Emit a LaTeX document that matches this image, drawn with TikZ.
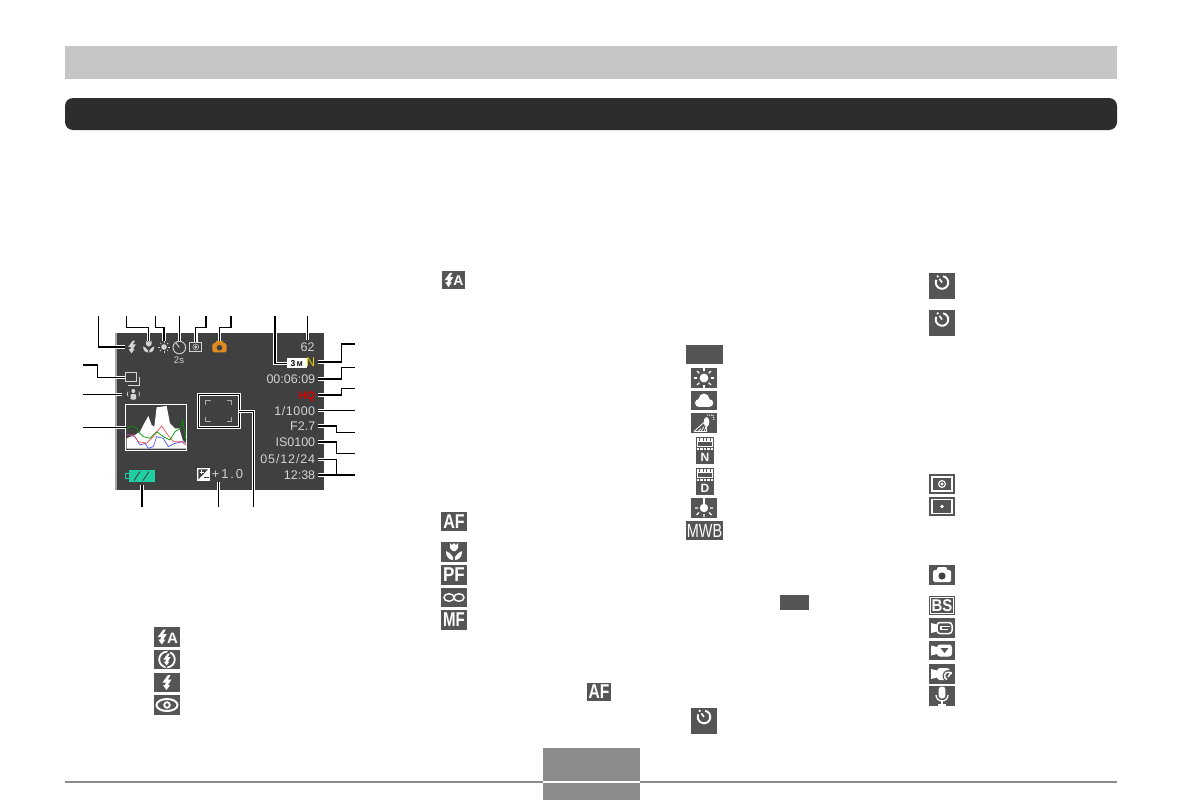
\documentclass[tikz,border=0pt]{standalone}
\usepackage{fontspec}
\setmainfont{Liberation Sans}
\usepackage{xcolor}
\usetikzlibrary{positioning,calc}

\definecolor{icongray}{HTML}{555555}
\definecolor{lcdback}{HTML}{404040}
\definecolor{lcdtext}{HTML}{D4D4D4}
\definecolor{barlight}{HTML}{C6C6C6}
\definecolor{bardark}{HTML}{2D2D2D}
\definecolor{footgray}{HTML}{8C8C8C}
\definecolor{lcdyellow}{HTML}{E6D000}
\definecolor{lcdred}{HTML}{DC0000}
\definecolor{lcdgreen}{HTML}{1FCFA2}
\definecolor{lcdorange}{HTML}{E08A22}

\tikzset{
  leader/.style={line width=1.1pt,black},
  halo/.style={line width=3.4pt,white},
  iconbox/.style 2 args={rectangle,fill=icongray,inner sep=0pt,outer sep=0pt,
    minimum width=#1,minimum height=#2,text=white},
  lcdlabel/.style={anchor=east,text=lcdtext,inner sep=0pt,outer sep=2.8pt,
    font=\fontsize{12.5}{12.5}\selectfont,text height=8.6pt,text depth=0pt},
  lcdicon/.style={rectangle,inner sep=0pt,outer sep=0pt,minimum width=#1,minimum height=12},
  iconletters/.style={font=\fontsize{20}{20}\selectfont\bfseries},
  boltglyph/.pic={
    \fill (1,-7.5) -- (-4.5,0) -- (-1,0) -- (-2,2.5) -- (-4,2.5) -- (-0.5,7.5)
      -- (3,2.5) -- (1,2.5) -- (4.5,-3) -- (1,-3) -- (3.5,-7.5) -- cycle;
  },
  timerglyph/.pic={
    \draw[line width=1.9pt] (-80:6.3) arc[start angle=-80,end angle=205,radius=6.3];
    \fill (-125:7.5) circle (1.3);
    \draw[line width=1.6pt] (0,0) -- (-125:4.5);
  },
  sunglyph/.pic={
    \fill (0,0) circle (4.4);
    \foreach \a in {0,45,...,315} \draw[line width=1.3pt] (\a:6.6) -- (\a:9.8);
  },
  cloudglyph/.pic={
    \fill (-5,2.5) circle (4);
    \fill (0,-1.5) circle (5.4);
    \fill (5.5,2.5) circle (3.8);
    \fill (-5,2.5) rectangle (5.5,6.4);
  },
  shadeglyph/.pic={
    \draw[line width=.8pt] (-10,8.5) -- (1,-1.5) (-10,8.5) -- (3,8.5);
    \foreach \x in {-6,-3,0} \draw[line width=.7pt] (\x,8.5) -- ({\x+3},{8.5-(\x+10)*.7});
    \fill (2.5,-1) ellipse (2.8 and 5);
    \draw[line width=1.3pt] (2.5,2) -- (2.5,8.5);
    \draw[densely dotted,line width=1pt] (3,-8) -- (9,-8) -- (10,-3);
  },
  tubeglyph/.pic={
    \draw[line width=1.1pt] (-7.5,-4) rectangle (7.5,-9) ;
    \draw[densely dotted,line width=2.4pt] (-8,-11.2) -- (8,-11.2) (-8,-1.8) -- (8,-1.8);
  },
  bulbglyph/.pic={
    \fill (0,0) circle (4.2);
    \fill (-1.2,-10) rectangle (1.2,0);
    \draw[line width=1.2pt] (-9,0) -- (-6,0) (6,0) -- (9,0)
      (-5,4.5) -- (-7.5,7) (5,4.5) -- (7.5,7) (0,6) -- (0,9);
  },
  meterglyph/.pic={
    \draw[line width=1.8pt] (-10,-7) rectangle (10,7);
    \draw[line width=1.1pt] (0,0) circle (3.4);
    \fill (0,0) circle (1.6);
  },
  spotglyph/.pic={
    \draw[line width=1.8pt] (-10,-7) rectangle (10,7);
    \fill (0,0) circle (1.9);
  },
  cameraglyph/.pic={
    \fill[rounded corners=1.5] (-9,-5) rectangle (9,7);
    \fill (-4,-8) -- (4,-8) -- (6,-4) -- (-6,-4) -- cycle;
    \fill[lcdback] (0,1) circle (3.6);
  },
  lampglyph/.pic={
    \fill (-11,-5) -- (-5,-3.5) -- (-5,3.5) -- (-11,5) -- cycle;
  },
  micglyph/.pic={
    \fill[rounded corners=3] (-3.4,-9.5) rectangle (3.4,2.5);
    \draw[line width=1.3pt] (-6,-1) arc[start angle=180,end angle=0,radius=6] -- (6,-1);
    \draw[line width=1.3pt] (0,5) -- (0,8.5) (-4,9) -- (4,9);
  },
  eyeglyph/.pic={
    \draw[line width=2pt] (0,0) ellipse (10.5 and 6);
    \draw[line width=1.8pt] (0,0) circle (2.8);
  },
  macroglyph/.pic={
    \fill (-4,-9) -- (-2,-7) -- (0,-9) -- (2,-7) -- (4,-9) -- (4,-4) -- (1.5,-1)
      -- (-1.5,-1) -- (-4,-4) -- cycle;
    \fill (-8,-1) .. controls (-8,6) and (-4,8) .. (-1,8) -- (-1,5)
      .. controls (-3,2) and (-5,0) .. (-8,-1) -- cycle;
    \fill (8,-1) .. controls (8,6) and (4,8) .. (1,8) -- (1,5)
      .. controls (3,2) and (5,0) .. (8,-1) -- cycle;
  }
}

\newcommand{\leadline}[1]{%
  \begin{scope}
    \clip (screen.north west) rectangle (screen.south east);
    \draw[halo] #1;
  \end{scope}
  \draw[leader] #1;
}

\begin{document}
\begin{tikzpicture}[x=1pt,y=-1pt]
  \useasboundingbox[fill=white] (0,0) rectangle (1183,800);

  \node[rectangle,fill=barlight,inner sep=0pt,minimum width=1052,minimum height=32.5] (headbar) at (591,62.3) {};
  \node[rectangle,fill=bardark,inner sep=0pt,rounded corners=8,minimum width=1052,minimum height=32] (titlebar) at (591,114) {};

  \node[rectangle,fill=footgray,inner sep=0pt,minimum width=97,minimum height=32.7] (pagebox) at (591.5,764.4) {};
  \node[rectangle,fill=footgray,inner sep=0pt,minimum width=97,minimum height=17] (pagefoot) at (591.5,791.5) {};
  \coordinate (footleft) at (65,782);
  \coordinate (footright) at (1117,782);
  \draw[footgray,line width=2pt] (footleft) -- (pagebox.south west |- footleft);
  \draw[footgray,line width=2pt] (pagebox.south east |- footright) -- (footright);

  % camera screen
  \node[rectangle,fill=lcdback,inner sep=0pt,outer sep=0pt,minimum width=208.3,minimum height=157.3] (screen) at (219.8,411.4) {};
  \coordinate (edgetop) at (116,332.7);
  \coordinate (edgebot) at (116,490);
  \draw[line width=1.2pt,gray!70] (edgetop) -- (edgebot);

  \node[lcdicon=14] (lcdFlash) at (132,347) {};
  \node[lcdicon=16] (lcdMacro) at (148.7,347) {};
  \node[lcdicon=16] (lcdSun) at (164,347) {};
  \node[lcdicon=14] (lcdTimer) at (179.3,347) {};
  \node[lcdicon=12,draw=lcdtext,line width=.8pt,minimum height=9.5] (lcdMeter) at (195.8,347) {};
  \node[lcdicon=14,minimum height=13] (lcdCamera) at (219.5,347) {};
  \node[lcdlabel,anchor=center,font=\fontsize{9.5}{9.5}\selectfont] (lcdTwo) at (179,359.5) {2s};
  \pic[lcdtext,scale=.85] at (lcdFlash) {boltglyph};
  \pic[lcdtext,scale=.7] at (lcdMacro) {macroglyph};
  \fill[lcdtext] (lcdSun) circle (2.8);
  \foreach \a in {0,45,...,315}
    \draw[lcdtext,line width=.7pt,shift={(lcdSun.center)}] (\a:4) -- (\a:6);
  \draw[lcdtext,line width=.9pt] (179.3,347.5) circle (6.3);
  \draw[lcdtext,line width=.9pt] (179.3,347.5) -- (175.8,342.5);
  \fill[lcdtext] (lcdMeter) circle (1.6);
  \draw[lcdtext,line width=.5pt] (lcdMeter) circle (3);
  \pic[lcdorange,scale=.78] at (lcdCamera) {cameraglyph};

  \node[lcdlabel,anchor=center] (lcdCount) at (307.5,347) {62};
  \node[rectangle,fill=white,inner sep=0pt,outer sep=0pt,minimum width=20,minimum height=9.7,
    font=\fontsize{8.5}{8.5}\selectfont\bfseries,text=black] (lcdSize) at (296.7,363.2) {3\,\raisebox{0pt}{\fontsize{7}{7}\selectfont M}};
  \node[lcdlabel,text=lcdyellow] (lcdQual) at (318,362) {N};
  \node[lcdlabel] (lcdRemain) at (318,379) {00:06:09};
  \node[lcdlabel,text=lcdred,font=\fontsize{11}{11}\selectfont\bfseries] (lcdMovie) at (318,395) {HQ};
  \node[lcdlabel,font=\fontsize{12.5}{12.5}\selectfont\addfontfeature{LetterSpace=4}] (lcdShutter) at (318,410.7) {1/1000};
  \node[lcdlabel] (lcdAper) at (318,426) {F2.7};
  \node[lcdlabel] (lcdIso) at (318,442) {IS0100};
  \node[lcdlabel,font=\fontsize{12.5}{12.5}\selectfont\addfontfeature{LetterSpace=7}] (lcdDate) at (318,459.3) {05/12/24};
  \node[lcdlabel] (lcdClock) at (318,475) {12:38};

  \node[lcdicon=11,minimum height=11] (lcdCont) at (130.8,377.3) {};
  \draw[lcdtext,line width=.8pt] (125.7,372.7) rectangle (136,381.7);
  \draw[lcdtext,line width=.8pt] (139.3,377.3) -- (139.3,385) -- (128.3,385);
  \node[lcdicon=22] (lcdShake) at (133.3,394.7) {};
  \fill[lcdtext] (133.3,391) circle (2);
  \fill[lcdtext,rounded corners=1] (130.5,394) rectangle (136.2,399.5);
  \draw[lcdtext,line width=.7pt] (128,391.5) arc[start angle=-150,end angle=-210,radius=5]
    (138.8,391.5) arc[start angle=-30,end angle=30,radius=5];

  \node[rectangle,fill=lcdback,draw=white,line width=1.1pt,inner sep=0pt,outer sep=0pt,
    minimum width=61,minimum height=45.7] (lcdHisto) at (156.2,427.2) {};
  \begin{scope}[shift={(60,300)},scale=.3333]
    \fill[white] (200,446) -- (200,415) -- (225,405) -- (240,395) -- (250,375) -- (265,348)
      -- (275,375) -- (283,380) -- (290,322) -- (320,318) -- (330,370) -- (345,385) -- (358,385)
      -- (368,420) -- (378,430) -- (378,446) -- cycle;
    \draw[blue!70!white,line width=.7pt] (200,402) -- (225,410) -- (240,435) -- (255,430)
      -- (265,445) -- (280,440) -- (290,410) -- (310,415) -- (325,440) -- (345,430)
      -- (370,425) -- (378,435);
    \draw[red!70!white,line width=.7pt] (200,405) -- (220,405) -- (235,425) -- (260,430)
      -- (280,410) -- (305,378) -- (320,400) -- (340,425) -- (365,425) -- (378,435);
    \draw[green!60!black,line width=.7pt] (200,385) -- (215,378) -- (230,385) -- (240,400)
      -- (250,410) -- (270,415) -- (290,395) -- (310,410) -- (330,420) -- (345,395)
      -- (362,385) -- (368,362) -- (378,420);
  \end{scope}

  \node[rectangle,draw=white,double=black,double distance=1pt,line width=1.1pt,inner sep=0pt,
    outer sep=0pt,minimum width=41,minimum height=33] (lcdFocus) at (218.7,410.8) {};
  \foreach \sx/\sy in {-1/-1,1/-1,-1/1,1/1}
    \draw[shift={(lcdFocus.center)},lcdtext!80!black,line width=.9pt]
      ({\sx*8},{\sy*10.8}) -- ({\sx*13},{\sy*10.8}) -- ({\sx*13},{\sy*6});

  \node[rectangle,draw=lcdgreen,fill=lcdgreen,line width=.8pt,inner sep=0pt,outer sep=3pt,
    minimum width=25,minimum height=11] (lcdBattery) at (141.5,476) {};
  \draw[lcdgreen,line width=.8pt] (129,473.5) -- (125.7,473.5) -- (125.7,478.5) -- (129,478.5);
  \foreach \x in {137,146}
    \draw[lcdback,line width=.9pt] (\x-3,480.5) -- (\x+3,471.5);

  \node[rectangle,fill=white,inner sep=0pt,outer sep=0pt,minimum width=12.7,minimum height=12.4] (lcdEvIcon) at (203.6,474.5) {};
  \fill[lcdback] (198.3,469.3) -- (208,469.3) -- (198.3,479.5) -- cycle;
  \draw[white,line width=.6pt] (199.5,472.3) -- (203.5,472.3) (201.5,470.3) -- (201.5,474.3);
  \draw[lcdback,line width=.6pt] (204,477.5) -- (208.5,477.5);
  \node[lcdlabel,anchor=center,font=\fontsize{13}{13}\selectfont\addfontfeature{LetterSpace=14}] (lcdEv) at (227.5,474.5) {+1.0};

  \coordinate (cutFlash) at (98.3,316);
  \coordinate (cutMacro) at (126.7,316);
  \coordinate (bendMacro) at (148.7,327.3);
  \coordinate (cutSun) at (155.3,316);
  \coordinate (bendSun) at (164,327.3);
  \coordinate (cutTimer) at (179.3,316);
  \coordinate (cutMeter) at (206,316);
  \coordinate (bendMeter) at (195.8,327.3);
  \coordinate (cutCamera) at (231,316);
  \coordinate (bendCamera) at (219.5,327.3);
  \coordinate (cutSize) at (275,316);
  \coordinate (cutCount) at (307.5,316);
  \coordinate (cutQual) at (355,344);
  \coordinate (bendQual) at (341.7,344);
  \coordinate (cutRemain) at (355,367.3);
  \coordinate (bendRemain) at (341.2,367.3);
  \coordinate (cutMovie) at (355,388.3);
  \coordinate (bendMovie) at (341.7,388.3);
  \coordinate (cutShutter) at (355,410.7);
  \coordinate (cutAper) at (355,432.3);
  \coordinate (bendAper) at (336.7,432.3);
  \coordinate (cutIso) at (355,453.3);
  \coordinate (bendIso) at (336.7,453.3);
  \coordinate (cutClock) at (355,475);
  \coordinate (bendDate) at (336.7,475);
  \coordinate (cutCont) at (83.3,365);
  \coordinate (bendCont) at (97.3,377.3);
  \coordinate (cutShake) at (83.3,394.7);
  \coordinate (cutHisto) at (83.3,427.2);
  \coordinate (cutBattery) at (142,507.3);
  \coordinate (cutEv) at (218.3,507.3);
  \coordinate (cutFocus) at (253.3,507.3);
  \coordinate (bendFocus) at (253.3,411.7);

  \leadline{(cutFlash) |- (lcdFlash.west)}
  \leadline{(cutMacro) |- (bendMacro) -- (lcdMacro.north)}
  \leadline{(cutSun) |- (bendSun) -- (lcdSun.north)}
  \leadline{(cutTimer) -- (lcdTimer.north)}
  \leadline{(cutMeter) |- (bendMeter) -- (lcdMeter.north)}
  \leadline{(cutCamera) |- (bendCamera) -- (lcdCamera.north)}
  \leadline{(cutSize) |- (lcdSize.west)}
  \leadline{(cutCount) -- (lcdCount.north)}
  \leadline{(lcdQual.east) -| (bendQual) -- (cutQual)}
  \leadline{(lcdRemain.east) -| (bendRemain) -- (cutRemain)}
  \leadline{(lcdMovie.east) -| (bendMovie) -- (cutMovie)}
  \leadline{(lcdShutter.east) -- (cutShutter)}
  \leadline{(lcdAper.east) -| (bendAper) -- (cutAper)}
  \leadline{(lcdIso.east) -| (bendIso) -- (cutIso)}
  \leadline{(lcdDate.east) -| (bendDate)}
  \leadline{(lcdClock.east) -- (cutClock)}
  \leadline{(cutCont) -| (bendCont) -- (lcdCont.west)}
  \leadline{(cutShake) -- (lcdShake.west)}
  \leadline{(cutHisto) -- (lcdHisto.west)}
  \leadline{(cutBattery) -- (cutBattery |- lcdBattery.south)}
  \leadline{(cutEv) -- (cutEv |- lcdEv.south)}
  \leadline{(cutFocus) -- (bendFocus) -- (lcdFocus.east |- bendFocus)}

  % flash column
  \node[iconbox={26}{19.4}] (iconAuto) at (167,637) {};
  \node[iconbox={26}{19}] (iconOff) at (167,659.5) {};
  \node[iconbox={26}{19.6}] (iconOn) at (167,682.5) {};
  \node[iconbox={26}{20}] (iconEye) at (167,705) {};
  \node[iconbox={23}{18}] (iconAutoTop) at (453.5,280) {};
  \pic[white] at (162.3,637) {boltglyph};
  \node[text=white,inner sep=0pt,font=\fontsize{15}{15}\selectfont\bfseries] (letterAuto) at (172.5,638.3) {A};
  \pic[white,scale=.95] at (449,280) {boltglyph};
  \node[text=white,inner sep=0pt,font=\fontsize{14}{14}\selectfont\bfseries] (letterAutoTop) at (458.5,280.7) {A};
  \draw[white,line width=1.8pt] (iconOff) circle (7.8);
  \pic[icongray,scale=1.15] at (iconOff) {boltglyph};
  \pic[white,scale=.8] at (iconOff) {boltglyph};
  \pic[white] at (iconOn) {boltglyph};
  \pic[white] at (iconEye) {eyeglyph};

  % focus column
  \node[iconbox={26}{19},iconletters] (iconAF) at (454,521.5) {\scalebox{.8}[1]{AF}};
  \node[iconbox={26}{20}] (iconMacro) at (454,552) {};
  \node[iconbox={26}{20},iconletters] (iconPF) at (454,575) {\scalebox{.85}[1]{PF}};
  \node[iconbox={26}{19}] (iconInf) at (454,597.5) {};
  \node[iconbox={26}{20},iconletters] (iconMF) at (454,620) {\scalebox{.75}[1]{MF}};
  \node[iconbox={24}{18},iconletters] (iconAFb) at (599,692) {\scalebox{.78}[1]{AF}};
  \pic[white] at (iconMacro) {macroglyph};
  \draw[white,line width=1.4pt] ($(iconInf)+(-5,0)$) ellipse (5 and 3.8) ($(iconInf)+(5,0)$) ellipse (5 and 3.8);

  % white balance column
  \node[iconbox={37}{19}] (iconBlank) at (704.5,354.5) {};
  \node[iconbox={26}{20}] (iconSun) at (704,378) {};
  \node[iconbox={26}{19}] (iconCloud) at (704,400.5) {};
  \node[iconbox={26}{20}] (iconShade) at (704,423) {};
  \node[iconbox={18}{27}] (iconTubeN) at (705,450.5) {};
  \node[iconbox={18}{27}] (iconTubeD) at (705,481.5) {};
  \node[iconbox={26}{20}] (iconBulb) at (704,508) {};
  \node[iconbox={37}{19},font=\fontsize{19}{19}\selectfont] (iconMWB) at (704.5,530.5) {\scalebox{.76}[1]{MWB}};
  \node[iconbox={29}{15}] (iconTag) at (794.5,602.5) {};
  \node[iconbox={26}{26}] (iconTimerLow) at (704,721) {};
  \pic[white] at (iconSun) {sunglyph};
  \pic[white] at (iconCloud) {cloudglyph};
  \pic[white] at (iconShade) {shadeglyph};
  \pic[white] at (iconTubeN) {tubeglyph};
  \pic[white] at (iconTubeD) {tubeglyph};
  \node[text=white,inner sep=0pt,font=\fontsize{12}{12}\selectfont\bfseries] (letterN) at (iconTubeN.center |- 0,457.5) {N};
  \node[text=white,inner sep=0pt,font=\fontsize{12}{12}\selectfont\bfseries] (letterD) at (iconTubeD.center |- 0,488.5) {D};
  \pic[white] at (iconBulb) {bulbglyph};
  \pic[white] at (704,717) {timerglyph};

  % right column
  \node[iconbox={26}{26}] (iconTimerA) at (942,286) {};
  \node[iconbox={26}{26}] (iconTimerB) at (942,323) {};
  \node[iconbox={26}{20}] (iconMeter) at (942,484) {};
  \node[iconbox={26}{19}] (iconSpot) at (942,506.5) {};
  \node[iconbox={26}{20}] (iconCamera) at (942,575) {};
  \node[iconbox={26}{19},font=\fontsize{17}{17}\selectfont\bfseries] (iconBS) at (942,605.5) {\scalebox{.88}[1]{BS}};
  \node[iconbox={26}{20}] (iconMovieA) at (942,628) {};
  \node[iconbox={26}{19}] (iconMovieB) at (942,650.5) {};
  \node[iconbox={26}{20}] (iconMovieC) at (942,674) {};
  \node[iconbox={26}{20}] (iconMic) at (942,696) {};
  \pic[white] at (942,282.5) {timerglyph};
  \pic[white] at (942,319.5) {timerglyph};
  \pic[white] at (iconMeter) {meterglyph};
  \pic[white] at (iconSpot) {spotglyph};
  \pic[white] at (iconCamera) {cameraglyph};
  \draw[white,line width=1pt] ($(iconBS)+(-11.5,-8)$) rectangle ($(iconBS)+(11.5,8)$);
  \pic[white] at (iconMovieA) {lampglyph};
  \draw[white,rounded corners=3,line width=1.5pt] (937,622.5) rectangle (952,633.5);
  \draw[white,line width=1.1pt] (950,626.5) -- (941,626.5) -- (941,629.5) -- (948,629.5);
  \pic[white] at (iconMovieB) {lampglyph};
  \fill[white,rounded corners=3] (937,644.5) rectangle (952,656.5);
  \fill[icongray] (940.5,648) -- (948.5,648) -- (944.5,653) -- cycle;
  \pic[white] at (iconMovieC) {lampglyph};
  \fill[white,rounded corners=3] (937,668) rectangle (950,680);
  \fill[icongray] (948.5,676) circle (6);
  \draw[white,line width=1.5pt] (951.5,674) arc[start angle=-30,end angle=-250,radius=3.8];
  \draw[white,line width=1.5pt] (948,677) -- (951.5,672);
  \pic[white] at (iconMic) {micglyph};
\end{tikzpicture}
\end{document}
